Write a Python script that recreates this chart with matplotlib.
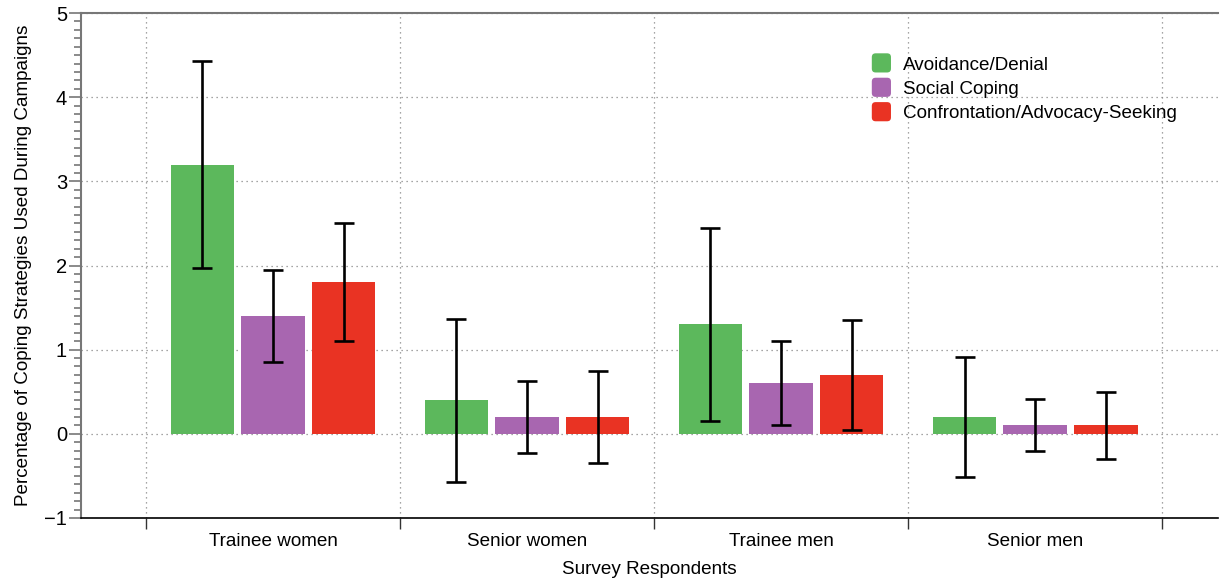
import numpy as np
import matplotlib.pyplot as plt
from matplotlib.patches import FancyBboxPatch, Rectangle
from matplotlib.legend_handler import HandlerPatch

plt.rcParams['font.family'] = ['Liberation Sans', 'DejaVu Sans']

groups = ['Trainee women', 'Senior women', 'Trainee men', 'Senior men']
series = ['Avoidance/Denial', 'Social Coping', 'Confrontation/Advocacy-Seeking']
colors = ['#5cb85c', '#a866b0', '#e93323']

means = [
    [3.2, 0.4, 1.3, 0.2],   # Avoidance/Denial
    [1.4, 0.2, 0.6, 0.1],   # Social Coping
    [1.8, 0.2, 0.7, 0.1],   # Confrontation/Advocacy-Seeking
]
errors = [
    [1.23, 0.97, 1.15, 0.71],
    [0.55, 0.43, 0.50, 0.31],
    [0.70, 0.55, 0.65, 0.40],
]

fig = plt.figure(figsize=(12.2, 5.79), dpi=100)
ax = fig.add_axes([0.0664, 0.1054, 0.932, 0.8721])

x = np.arange(len(groups))
width = 0.25
offsets = [-0.278, 0.0, 0.278]

for i in range(len(series)):
    ax.bar(x + offsets[i], means[i], width, color=colors[i], zorder=2)
    ax.errorbar(x + offsets[i], means[i], yerr=errors[i], fmt='none', ecolor='black',
                elinewidth=1.9, capsize=7.5, capthick=1.9, zorder=3)

ax.set_xlim(-0.756, 3.72)
ax.set_ylim(-1, 5)

# boundaries as major ticks, group names as minor ticks
ax.set_xticks(np.arange(-0.5, 4.0, 1.0))
ax.set_xticklabels([])
ax.set_xticks(x, minor=True)
ax.set_xticklabels(groups, minor=True, fontsize=13.6)
ax.tick_params(axis='x', which='minor', length=0, pad=11)
ax.tick_params(axis='x', which='major', length=8, width=1, color='#333333', direction='out')

ax.set_yticks(np.arange(-1, 6, 1))
ax.set_yticks(np.arange(-1, 5.01, 0.1), minor=True)
ax.set_yticklabels(['\u22121', '0', '1', '2', '3', '4', '5'], fontsize=14.5)
ax.tick_params(axis='y', which='major', length=9, width=1.2, color='#777777', pad=1)
ax.tick_params(axis='y', which='minor', length=5, width=1.2, color='#777777')

ax.grid(True, which='major', linestyle=(0, (1, 3)), color='#888888', linewidth=0.9, zorder=0)

ax.spines['right'].set_visible(False)
ax.spines['top'].set_color('#777777')
ax.spines['top'].set_linewidth(1.5)
ax.spines['left'].set_color('#777777')
ax.spines['left'].set_linewidth(1.5)
ax.spines['bottom'].set_color('black')
ax.spines['bottom'].set_linewidth(1.2)

ax.set_xlabel('Survey Respondents', fontsize=13.6, labelpad=8)
ax.set_ylabel('Percentage of Coping Strategies Used During Campaigns', fontsize=13.6, labelpad=9)


class RoundedHandler(HandlerPatch):
    def create_artists(self, legend, orig_handle, xdescent, ydescent, width, height, fontsize, trans):
        s = height * 1.45
        p = FancyBboxPatch((xdescent + (width - s) / 2, ydescent + (height - s) / 2), s, s,
                           boxstyle='round,pad=0,rounding_size=%f' % (s * 0.2),
                           facecolor=orig_handle.get_facecolor(), edgecolor='none',
                           transform=trans)
        return [p]


handles = [Rectangle((0, 0), 1, 1, facecolor=c) for c in colors]
ax.legend(handles, series, loc='upper left', bbox_to_anchor=(0.679, 0.948), frameon=False,
          fontsize=13.6, handler_map={Rectangle: RoundedHandler()},
          handlelength=1.2, handletextpad=0.55, labelspacing=0.38)

fig.savefig('out.png', dpi=100)
